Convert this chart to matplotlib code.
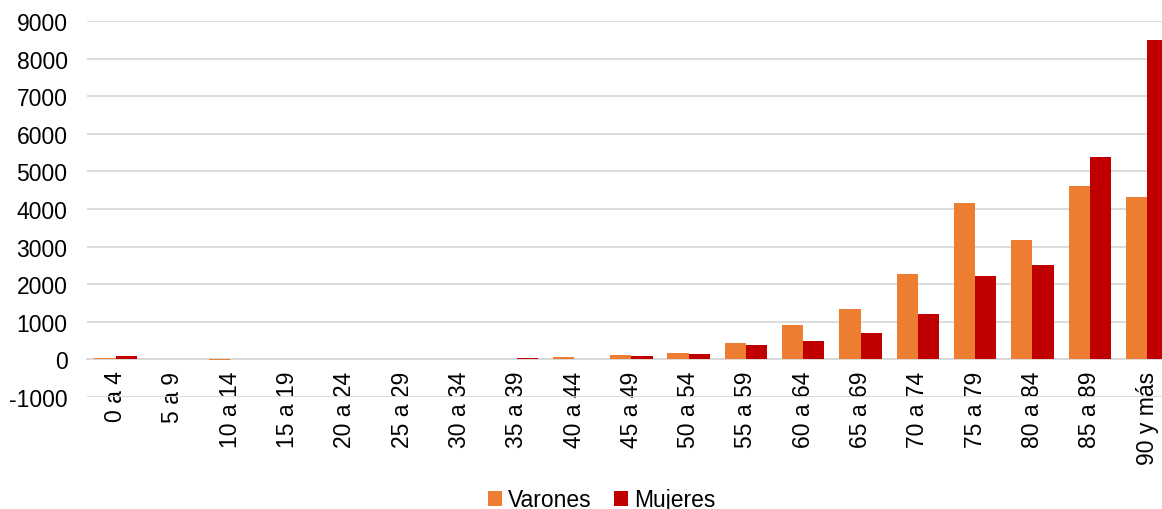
import matplotlib
matplotlib.use("Agg")
import matplotlib.pyplot as plt
import numpy as np

plt.rcParams['font.family'] = ['Liberation Sans', 'DejaVu Sans']
plt.rcParams['axes.unicode_minus'] = False

categories = ["0 a 4", "5 a 9", "10 a 14", "15 a 19", "20 a 24", "25 a 29", "30 a 34",
              "35 a 39", "40 a 44", "45 a 49", "50 a 54", "55 a 59", "60 a 64", "65 a 69",
              "70 a 74", "75 a 79", "80 a 84", "85 a 89", "90 y más"]
varones = [30, 0, -15, 0, 0, 0, 0, 10, 60, 110, 170, 430, 910, 1345, 2280, 4150, 3185, 4610, 4315]
mujeres = [90, 0, 0, 0, 0, 0, 0, 40, 15, 100, 140, 380, 495, 690, 1200, 2205, 2515, 5390, 8490]

orange = "#ED7D31"
red = "#C00000"
fs = 16.5

fig = plt.figure(figsize=(11.62, 5.10), dpi=100)
ax = fig.add_axes([87/1162, 1 - 398/510, 19*57.3/1162, (398-22)/510])

x = np.arange(len(categories))
w = 0.37
ax.bar(x - w/2, varones, width=w, color=orange, linewidth=0, label="Varones", zorder=3)
ax.bar(x + w/2, mujeres, width=w, color=red, linewidth=0, label="Mujeres", zorder=3)

ax.set_xlim(-0.5, len(categories) - 0.5)
ax.set_ylim(-1000, 9000)
ax.set_yticks(np.arange(-1000, 9001, 1000))
ax.yaxis.grid(True, color="#D9D9D9", linewidth=1.3, zorder=0)
ax.set_axisbelow(True)

for s in ["top", "right", "left"]:
    ax.spines[s].set_visible(False)
ax.spines["bottom"].set_position(("data", 0))
ax.spines["bottom"].set_color("#D9D9D9")
ax.spines["bottom"].set_linewidth(1.3)

ax.set_xticks(x)
ax.set_xticklabels(categories, rotation=90, fontsize=fs, color="black")
ax.tick_params(axis="x", length=0, pad=8)
ax.tick_params(axis="y", length=0, pad=14, labelsize=fs, labelcolor="black")

fig.legend(loc="lower center", bbox_to_anchor=(0.518, -0.045), ncol=2, frameon=False,
           fontsize=fs, handlelength=0.6, handleheight=0.6, handletextpad=0.25,
           columnspacing=1.0)

fig.savefig("out.png", dpi=100)
